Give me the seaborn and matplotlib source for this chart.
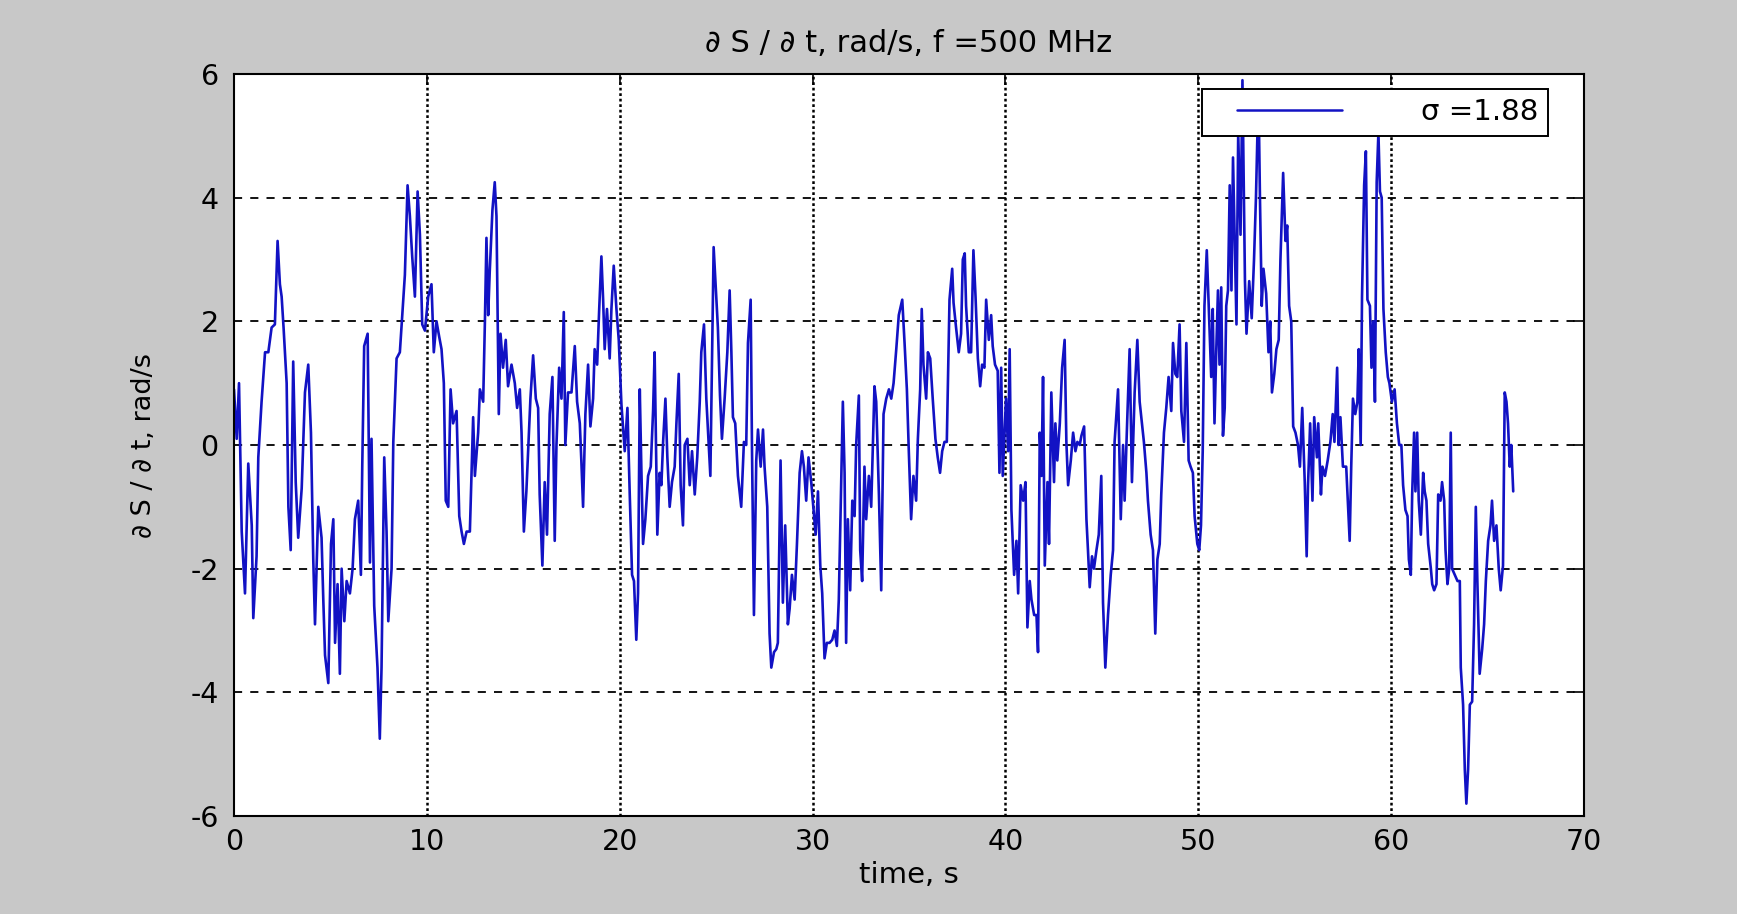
import numpy as np
import pandas as pd
import matplotlib
matplotlib.use("Agg")
import matplotlib.pyplot as plt
from matplotlib.lines import Line2D
from matplotlib.legend_handler import HandlerLine2D
import seaborn as sns

# ---- data (time in s, dS/dt in rad/s) ----
time_s = [
    0.00, 0.14, 0.26, 0.40, 0.57, 0.74, 0.92, 1.00, 1.17, 1.26, 1.43, 1.61, 1.78, 1.95, 2.12, 2.26,
    2.38, 2.47, 2.57, 2.73, 2.82, 2.94, 3.07, 3.20, 3.33, 3.51, 3.68, 3.85, 3.99, 4.11, 4.20, 4.37,
    4.54, 4.63, 4.72, 4.89, 5.03, 5.15, 5.24, 5.37, 5.49, 5.58, 5.72, 5.84, 6.01, 6.15, 6.27, 6.44,
    6.58, 6.65, 6.75, 6.93, 7.05, 7.13, 7.27, 7.44, 7.56, 7.65, 7.79, 7.91, 8.00, 8.17, 8.26, 8.43,
    8.60, 8.86, 9.00, 9.12, 9.24, 9.38, 9.52, 9.64, 9.76, 9.90,
    10.07, 10.24, 10.36, 10.50, 10.64, 10.76, 10.88, 10.98, 11.11, 11.23, 11.36, 11.54, 11.68, 11.80,
    11.92, 12.06, 12.23, 12.40, 12.49, 12.66, 12.75, 12.92, 13.01, 13.09, 13.18, 13.26, 13.40, 13.52,
    13.61, 13.73, 13.82, 13.95, 14.09, 14.21, 14.39, 14.56, 14.68, 14.82, 14.91, 15.03, 15.16, 15.25,
    15.37, 15.51, 15.65, 15.77, 15.85, 15.99, 16.11, 16.23, 16.37, 16.51, 16.63, 16.72, 16.86, 16.98,
    17.10, 17.18, 17.32, 17.50, 17.67, 17.79, 17.93, 18.01, 18.10, 18.22, 18.36, 18.48, 18.62, 18.70,
    18.83, 18.93, 19.05, 19.14, 19.22, 19.34, 19.48, 19.57, 19.69, 19.83, 19.95,
    20.09, 20.26, 20.40, 20.52, 20.64, 20.74, 20.86, 20.95, 21.04, 21.12, 21.21, 21.33, 21.47, 21.61,
    21.73, 21.81, 21.95, 22.07, 22.16, 22.25, 22.37, 22.47, 22.59, 22.71, 22.85, 22.94, 23.06, 23.16,
    23.28, 23.37, 23.51, 23.63, 23.75, 23.89, 24.02, 24.15, 24.23, 24.37, 24.49, 24.58, 24.70, 24.78,
    24.87, 24.97, 25.09, 25.20, 25.30, 25.44, 25.58, 25.70, 25.79, 25.87, 25.99, 26.13, 26.30, 26.44,
    26.56, 26.65, 26.79, 26.86, 26.96, 27.08, 27.17, 27.31, 27.43, 27.51, 27.65, 27.77, 27.86, 28.00,
    28.12, 28.20, 28.34, 28.46, 28.58, 28.72, 28.81, 28.93, 29.07, 29.19, 29.33, 29.45, 29.55, 29.67,
    29.79, 29.93,
    30.16, 30.28, 30.40, 30.50, 30.62, 30.74, 30.88, 31.02, 31.14, 31.26, 31.36, 31.49, 31.57, 31.66,
    31.74, 31.83, 31.95, 32.06, 32.18, 32.26, 32.40, 32.47, 32.57, 32.69, 32.78, 32.92, 33.04, 33.13,
    33.21, 33.30, 33.44, 33.56, 33.68, 33.82, 33.96, 34.08, 34.20, 34.34, 34.47, 34.65, 34.77, 34.89,
    34.99, 35.11, 35.23, 35.37, 35.46, 35.58, 35.66, 35.75, 35.89, 35.98, 36.10, 36.23, 36.37, 36.49,
    36.61, 36.72, 36.84, 36.96, 37.10, 37.24, 37.31, 37.44, 37.58, 37.70, 37.79, 37.89, 37.96, 38.10,
    38.22, 38.34, 38.45, 38.57, 38.69, 38.79, 38.91, 39.00, 39.14, 39.26, 39.34, 39.46, 39.60, 39.69,
    39.78, 39.86, 40.03,
    40.14, 40.22, 40.31, 40.45, 40.57, 40.66, 40.79, 40.92, 41.04, 41.14, 41.26, 41.35, 41.49, 41.61,
    41.69, 41.78, 41.87, 41.95, 42.04, 42.18, 42.26, 42.38, 42.52, 42.59, 42.69, 42.82, 42.94, 43.07,
    43.16, 43.25, 43.39, 43.51, 43.63, 43.73, 43.85, 43.94, 44.08, 44.20, 44.28, 44.37, 44.49, 44.59,
    44.72, 44.84, 44.97, 45.06, 45.18, 45.32, 45.46, 45.58, 45.66, 45.84, 45.98, 46.10, 46.18, 46.32,
    46.44, 46.56, 46.70, 46.84, 46.96, 47.08, 47.18, 47.31, 47.39, 47.53, 47.65, 47.77, 47.88, 48.00,
    48.08, 48.22, 48.34, 48.46, 48.60, 48.69, 48.81, 48.91, 49.03, 49.12, 49.26, 49.38, 49.50, 49.60,
    49.72, 49.81, 49.95,
    50.05, 50.14, 50.23, 50.32, 50.44, 50.54, 50.67, 50.75, 50.84, 50.93, 51.02, 51.10, 51.19, 51.28,
    51.37, 51.45, 51.54, 51.63, 51.72, 51.80, 51.89, 51.98, 52.07, 52.19, 52.29, 52.42, 52.50, 52.64,
    52.77, 52.89, 52.99, 53.12, 53.20, 53.29, 53.38, 53.52, 53.64, 53.73, 53.82, 53.94, 54.05, 54.17,
    54.26, 54.40, 54.52, 54.61, 54.71, 54.82, 54.92, 55.04, 55.17, 55.27, 55.39, 55.52, 55.62, 55.69,
    55.80, 55.92, 56.01, 56.15, 56.22, 56.36, 56.44, 56.57, 56.71, 56.85, 56.97, 57.06, 57.20, 57.27,
    57.37, 57.50, 57.67, 57.85, 57.93, 58.02, 58.14, 58.25, 58.32, 58.42, 58.49, 58.60, 58.69, 58.77,
    58.90, 58.98, 59.07, 59.16, 59.25, 59.34, 59.42, 59.51, 59.60, 59.72, 59.83, 59.91, 60.04, 60.18,
    60.30, 60.42, 60.53,
    60.62, 60.74, 60.85, 60.92, 61.02, 61.09, 61.19, 61.26, 61.35, 61.43, 61.54, 61.66, 61.74, 61.83,
    61.92, 62.06, 62.13, 62.23, 62.35, 62.44, 62.56, 62.64, 62.75, 62.82, 62.92, 63.01, 63.09, 63.16,
    63.30, 63.44, 63.56, 63.61, 63.73, 63.82, 63.90, 63.99, 64.08, 64.20, 64.30, 64.39, 64.47, 64.59,
    64.72, 64.82, 64.91, 65.03, 65.15, 65.23, 65.34, 65.46, 65.58, 65.68, 65.80, 65.89, 65.98, 66.06,
    66.15, 66.23, 66.33,
]

dsdt = [
    0.9, 0.1, 1.0, -1.4, -2.4, -0.3, -1.3, -2.8, -1.8, -0.2, 0.7, 1.5, 1.5, 1.9, 1.95, 3.3,
    2.6, 2.4, 1.9, 1.0, -1.0, -1.7, 1.35, -0.6, -1.5, -0.7, 0.85, 1.3, 0.2, -1.85, -2.9, -1.0,
    -1.5, -2.5, -3.4, -3.85, -1.6, -1.2, -3.2, -2.25, -3.7, -2.0, -2.85, -2.2, -2.4, -2.0, -1.2, -0.9,
    -2.1, -0.35, 1.6, 1.8, -1.9, 0.1, -2.6, -3.6, -4.75, -3.6, -0.2, -1.4, -2.85, -2.0, 0.05, 1.4,
    1.5, 2.75, 4.2, 3.7, 3.05, 2.4, 4.1, 3.4, 1.95, 1.85,
    2.4, 2.6, 1.5, 2.0, 1.75, 1.55, 1.0, -0.9, -1.0, 0.9, 0.35, 0.55, -1.15, -1.4,
    -1.6, -1.4, -1.4, 0.45, -0.5, 0.2, 0.9, 0.7, 2.0, 3.35, 2.1, 2.8, 3.8, 4.25,
    3.7, 0.5, 1.8, 1.25, 1.7, 0.95, 1.3, 1.0, 0.6, 0.9, 0.2, -1.4, -0.75, -0.1,
    0.75, 1.45, 0.75, 0.6, -0.8, -1.95, -0.6, -1.45, 0.5, 1.1, -1.55, 0.0, 1.25, 0.75,
    2.15, 0.0, 0.85, 0.85, 1.6, 0.7, 0.35, -0.25, -1.0, 0.5, 1.3, 0.3, 0.75, 1.55,
    1.3, 2.15, 3.05, 2.35, 1.55, 2.2, 1.4, 2.2, 2.9, 2.2, 1.7,
    0.65, -0.1, 0.6, -0.8, -2.1, -2.2, -3.15, -2.4, 0.9, -0.35, -1.6, -1.2, -0.5, -0.35,
    0.55, 1.5, -1.45, -0.45, -0.65, 0.05, 0.75, -0.2, -1.0, -0.6, -0.35, 0.35, 1.15, -0.65,
    -1.3, 0.0, 0.1, -0.65, -0.1, -0.8, -0.2, 0.7, 1.5, 1.95, 0.75, 0.2, -0.5, 1.3,
    3.2, 2.6, 1.9, 0.8, 0.1, 0.75, 1.5, 2.5, 1.5, 0.45, 0.35, -0.5, -1.0, 0.05,
    0.0, 1.65, 2.35, -0.1, -2.75, -0.25, 0.25, -0.35, 0.25, -0.35, -1.0, -3.05, -3.6, -3.35,
    -3.3, -3.2, -0.25, -2.55, -1.3, -2.9, -2.65, -2.1, -2.5, -1.6, -0.45, -0.1, -0.35, -0.9,
    -0.2, -0.6,
    -1.45, -0.75, -1.95, -2.4, -3.45, -3.2, -3.2, -3.15, -3.0, -3.25, -2.5, -0.5, 0.7, -0.45,
    -3.2, -1.2, -2.35, -0.9, -1.15, 0.0, 0.8, -1.7, -2.2, -0.35, -1.2, -0.5, -1.0, 0.05,
    0.95, 0.7, -0.8, -2.35, 0.5, 0.75, 0.9, 0.75, 1.0, 1.55, 2.1, 2.35, 1.65, 0.9,
    -0.1, -1.2, -0.5, -0.9, 0.1, 0.9, 2.2, 1.3, 0.75, 1.5, 1.4, 0.75, 0.1, -0.2,
    -0.45, -0.1, 0.05, 0.05, 2.35, 2.85, 2.3, 1.9, 1.5, 1.8, 3.0, 3.1, 2.25, 1.5,
    1.5, 3.15, 2.4, 1.4, 0.95, 1.3, 1.25, 2.35, 1.7, 2.1, 1.6, 1.3, 1.2, -0.45,
    1.25, -0.5, 0.75,
    -0.1, 1.55, -1.05, -2.1, -1.55, -2.4, -0.65, -0.9, -0.6, -2.95, -2.2, -2.5, -2.75, -2.75,
    -3.35, 0.2, -0.5, 1.1, -1.95, -0.6, -1.6, 0.85, -0.6, 0.35, -0.25, 0.35, 1.25, 1.7,
    0.05, -0.65, -0.25, 0.2, -0.1, 0.05, 0.0, 0.15, 0.3, -1.2, -1.7, -2.3, -1.8, -2.0,
    -1.7, -1.45, -0.5, -2.55, -3.6, -2.75, -2.1, -1.7, 0.05, 0.9, -1.2, 0.0, -0.9, 0.45,
    1.55, -0.6, 0.85, 1.7, 0.7, 0.35, 0.05, -0.45, -0.9, -1.45, -1.7, -3.05, -1.85, -1.6,
    -0.8, 0.2, 0.6, 1.1, 0.55, 1.65, 1.15, 1.1, 1.95, 0.55, 0.05, 1.65, -0.25, -0.35,
    -0.45, -1.15, -1.6,
    -1.7, -1.3, -0.1, 2.25, 3.15, 2.25, 1.1, 2.2, 0.35, 1.5, 2.5, 1.3, 2.55, 0.15,
    0.6, 2.25, 2.5, 4.2, 2.5, 4.65, 3.3, 1.95, 5.05, 3.4, 5.9, 2.65, 1.8, 2.65,
    2.05, 3.0, 4.0, 5.75, 3.95, 2.25, 2.85, 2.45, 1.5, 2.0, 0.85, 1.15, 1.55, 1.7,
    3.0, 4.4, 3.3, 3.55, 2.25, 2.0, 0.3, 0.2, 0.0, -0.35, 0.6, -0.6, -1.8, -0.65,
    0.35, -0.9, 0.45, -0.2, 0.35, -0.8, -0.35, -0.5, -0.25, 0.05, 0.5, 0.05, 1.25, 0.0,
    0.45, -0.35, -0.35, -1.55, -0.35, 0.75, 0.5, 0.7, 1.55, 0.0, 2.4, 4.2, 4.75, 2.35,
    2.25, 1.25, 2.0, 0.7, 4.25, 5.05, 4.1, 4.0, 2.2, 1.5, 1.1, 1.0, 0.7, 0.9,
    0.35, 0.0, 0.0,
    -0.65, -1.05, -1.15, -1.85, -2.1, -0.8, 0.2, -0.75, 0.2, -0.9, -1.45, -0.45, -0.75, -0.9,
    -1.6, -2.0, -2.25, -2.35, -2.25, -0.8, -0.9, -0.6, -0.9, -1.7, -2.25, -2.0, 0.2, -2.0,
    -2.1, -2.2, -2.2, -3.6, -4.2, -5.25, -5.8, -5.25, -4.2, -4.15, -2.9, -1.0, -2.2, -3.7,
    -3.3, -2.9, -2.2, -1.55, -1.3, -0.9, -1.55, -1.3, -2.0, -2.35, -1.95, 0.85, 0.7, 0.35,
    -0.35, 0.0, -0.75,
]

x_ticks = [0, 10, 20, 30, 40, 50, 60, 70]
y_ticks = [-6, -4, -2, 0, 2, 4, 6]
title_text = "\u2202 S / \u2202 t, rad/s, f =500 MHz"
xlabel_text = "time, s"
ylabel_text = "\u2202 S / \u2202 t, rad/s"
legend_label = "\u03c3 =1.88"

n = min(len(time_s), len(dsdt))
df = pd.DataFrame({"t": time_s[:n], "v": dsdt[:n]})

sns.set_style("white")
plt.rcParams["font.family"] = ["DejaVu Sans"]
plt.rcParams["axes.unicode_minus"] = False
plt.rcParams["text.color"] = "black"
plt.rcParams["axes.labelcolor"] = "black"
plt.rcParams["xtick.color"] = "black"
plt.rcParams["ytick.color"] = "black"

W, H = 1737, 914
fig = plt.figure(figsize=(W / 100, H / 100), dpi=100)
fig.patch.set_facecolor("#c8c8c8")
ax = fig.add_axes([234 / W, 1 - 816 / H, (1584 - 234) / W, (816 - 74) / H])
ax.set_facecolor("white")

LINE_COLOR = "#1212c4"
sns.lineplot(data=df, x="t", y="v", ax=ax, sort=False, estimator=None,
             color=LINE_COLOR, linewidth=1.9, legend=False)

ax.set_xlim(0, 70)
ax.set_ylim(-6, 6)
ax.set_xticks(x_ticks)
ax.set_yticks(y_ticks)

# MATLAB-like dotted grid
for xv in x_ticks[1:-1]:
    ax.axvline(xv, color="black", linewidth=1.8, linestyle=(0, (1.1, 1.1)), zorder=0.5)
for yv in y_ticks[1:-1]:
    ax.axhline(yv, color="black", linewidth=1.3, linestyle=(0, (4.5, 4.5)), zorder=0.5)

ax.tick_params(direction="in", length=8, width=1.2, top=True, right=True,
               labelsize=20.5, colors="black", labelcolor="black")
ax.tick_params(axis="x", pad=9)
ax.tick_params(axis="y", pad=11)
for s in ax.spines.values():
    s.set_color("black")
    s.set_linewidth(1.5)
    s.set_visible(True)

ax.set_title(title_text, fontsize=22, pad=16, color="black")
ax.set_xlabel(xlabel_text, fontsize=21, color="black")
ax.set_ylabel(ylabel_text, fontsize=19.5, color="black")
ax.xaxis.set_label_coords(0.5, -0.060)
ax.yaxis.set_label_coords(-0.057, 0.5)


class LeadLineHandler(HandlerLine2D):
    """Legend line that leaves a blank lead-in before the stroke (MATLAB look)."""

    def __init__(self, lead=0.2, **kw):
        super().__init__(**kw)
        self.lead = lead

    def create_artists(self, legend, orig_handle, xdescent, ydescent, width,
                       height, fontsize, trans):
        arts = super().create_artists(legend, orig_handle, xdescent, ydescent,
                                      width, height, fontsize, trans)
        for a in arts:
            if isinstance(a, Line2D):
                xd = np.asarray(a.get_xdata(), float)
                if xd.size >= 2:
                    x0, x1 = xd.min(), xd.max()
                    a.set_xdata(np.linspace(x0 + self.lead * (x1 - x0), x1, xd.size))
        return arts


handle = Line2D([], [], color=LINE_COLOR, linewidth=1.8)
leg = ax.legend([handle], [legend_label], loc="upper right",
                bbox_to_anchor=(0.973, 0.980), fontsize=21,
                frameon=True, fancybox=False, framealpha=1, edgecolor="black",
                handlelength=4.5, handletextpad=2.7, borderpad=0.32,
                borderaxespad=0,
                handler_map={Line2D: LeadLineHandler(lead=0.2)})
leg.get_frame().set_linewidth(1.4)
leg.set_zorder(5)
for txt in leg.get_texts():
    txt.set_color("black")

fig.savefig("out.png", dpi=100, facecolor=fig.get_facecolor())
